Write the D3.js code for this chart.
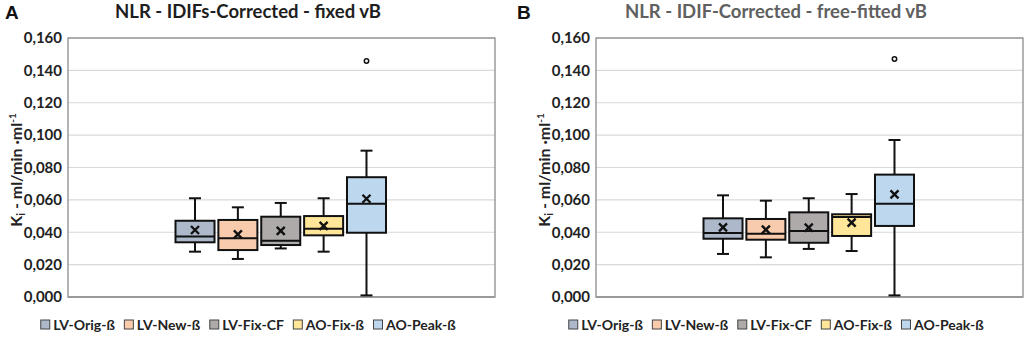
<!DOCTYPE html>
<html><head><meta charset="utf-8">
<script src="https://cdn.jsdelivr.net/npm/d3@7"></script>
<style>body{margin:0;background:#fff}svg{display:block}text{font-family:Lato,"Open Sans",sans-serif}</style>
</head><body>
<svg id="c" width="1026" height="340"></svg>
<script>
const series = ["LV-Orig-ß","LV-New-ß","LV-Fix-CF","AO-Fix-ß","AO-Peak-ß"];
const colors = ["#adb9ca","#f8cbad","#aeaaaa","#ffe699","#bdd7ee"];
const yTicks = [0,0.02,0.04,0.06,0.08,0.10,0.12,0.14,0.16];

const titleA = "NLR - IDIFs-Corrected - fixed vB";
const minA  = [0.0280,0.0235,0.0300,0.0280,0.0010];
const q1A   = [0.0338,0.0290,0.0321,0.0381,0.0397];
const medA  = [0.0373,0.0363,0.0348,0.0422,0.0576];
const q3A   = [0.0471,0.0476,0.0496,0.0500,0.0740];
const maxA  = [0.0610,0.0554,0.0581,0.0610,0.0904];
const meanA = [0.0414,0.0387,0.0408,0.0439,0.0607];
const outA  = [[],[],[],[],[0.1458]];

const titleB = "NLR - IDIF-Corrected - free-fitted vB";
const minB  = [0.0266,0.0245,0.0297,0.0284,0.0010];
const q1B   = [0.0360,0.0354,0.0335,0.0377,0.0439];
const medB  = [0.0395,0.0391,0.0408,0.0494,0.0576];
const q3B   = [0.0486,0.0482,0.0523,0.0511,0.0756];
const maxB  = [0.0628,0.0595,0.0610,0.0636,0.0970];
const meanB = [0.0430,0.0416,0.0428,0.0459,0.0634];
const outB  = [[],[],[],[],[0.1470]];

const svg = d3.select("#c");
const y = d3.scaleLinear().domain([0,0.16]).range([297,38]);
const fmt = v => d3.format(".3f")(v).replace(".",",");

function panel(o){
  const g = svg.append("g");
  const x0=o.x0, x1=o.x1;
  g.append("text").attr("x",o.letterX).attr("y",19)
    .style("font-family","'Liberation Sans',Arial,sans-serif").attr("font-weight","bold").attr("font-size",19).attr("fill","#111").text(o.letter);
  g.append("text").attr("x",o.cx).attr("y",17.5).attr("text-anchor","middle").attr("font-weight","bold")
    .attr("font-size",18.5).attr("fill",o.titleColor).text(o.title);
  g.selectAll("line.grid").data(yTicks.slice(1)).join("line").attr("class","grid")
    .attr("x1",x0).attr("x2",x1).attr("y1",d=>y(d)).attr("y2",d=>y(d))
    .attr("stroke","#d9d9d9").attr("stroke-width",1.2);
  g.append("rect").attr("x",x0).attr("y",y(0.16)).attr("width",x1-x0).attr("height",y(0)-y(0.16))
    .attr("fill","none").attr("stroke","#8c8c8c").attr("stroke-width",1.3);
  g.append("line").attr("x1",x0).attr("x2",x1).attr("y1",y(0)).attr("y2",y(0)).attr("stroke","#9a9a9a").attr("stroke-width",2);
  const ax = d3.axisLeft(y).tickValues(yTicks).tickFormat(fmt).tickSize(0).tickPadding(6);
  const ag = g.append("g").attr("transform",`translate(${x0},0)`).call(ax);
  ag.select(".domain").remove();
  ag.selectAll("text").attr("font-size",15).attr("font-weight","bold").attr("fill","#222")
    .style("font-family","Lato,'Open Sans',sans-serif");
  const yl = g.append("text").attr("transform",`translate(${o.labelX},170) rotate(-90)`).attr("text-anchor","middle")
    .attr("font-weight","bold").attr("font-size",16).attr("fill","#222");
  yl.append("tspan").text("K");
  yl.append("tspan").attr("font-size",11).attr("dy",3).text("i");
  yl.append("tspan").attr("dy",-3).text(" - ml/min ·ml");
  yl.append("tspan").attr("font-size",10).attr("dy",-6).text("-1");
  const xb = d3.scaleBand().domain(series).range([x0+107.5,x1-109]).paddingInner(0.09);
  const bw = xb.bandwidth();
  series.forEach((s,i)=>{
    const cx = xb(s)+bw/2;
    const bg = g.append("g");
    bg.append("line").attr("x1",cx).attr("x2",cx).attr("y1",y(o.max[i])).attr("y2",y(o.q3[i])).attr("stroke","#111").attr("stroke-width",2);
    bg.append("line").attr("x1",cx).attr("x2",cx).attr("y1",y(o.q1[i])).attr("y2",y(o.min[i])).attr("stroke","#111").attr("stroke-width",2);
    [o.max[i],o.min[i]].forEach(v=>bg.append("line").attr("x1",cx-6).attr("x2",cx+6).attr("y1",y(v)).attr("y2",y(v)).attr("stroke","#111").attr("stroke-width",2));
    bg.append("rect").attr("x",xb(s)).attr("width",bw).attr("y",y(o.q3[i])).attr("height",y(o.q1[i])-y(o.q3[i]))
      .attr("fill",colors[i]).attr("stroke","#111").attr("stroke-width",2);
    bg.append("line").attr("x1",xb(s)).attr("x2",xb(s)+bw).attr("y1",y(o.med[i])).attr("y2",y(o.med[i])).attr("stroke","#111").attr("stroke-width",2);
    const my = y(o.mean[i]), m=4;
    bg.append("path").attr("d",`M${cx-m},${my-m}L${cx+m},${my+m}M${cx-m},${my+m}L${cx+m},${my-m}`).attr("stroke","#111").attr("stroke-width",2.4);
    o.out[i].forEach(v=>bg.append("circle").attr("cx",cx).attr("cy",y(v)).attr("r",2.2).attr("fill","#fff").attr("stroke","#111").attr("stroke-width",1.5));
  });
  const lg = g.append("g");
  let xx=0;
  series.forEach((s,i)=>{
    const it = lg.append("g").attr("transform",`translate(${xx},0)`);
    it.append("rect").attr("x",0.5).attr("y",-5).attr("width",9).attr("height",9).attr("fill",colors[i]).attr("stroke","#444").attr("stroke-width",1);
    const t = it.append("text").attr("x",13).attr("y",5).attr("font-size",14).attr("font-weight","bold").attr("fill","#222").text(s);
    xx += 13 + t.node().getComputedTextLength() + 9;
  });
  const tw = xx-9;
  lg.attr("transform",`translate(${o.cx - tw/2},325)`);
}

panel({letter:"A",letterX:5,title:titleA,titleColor:"#1e1e1e",cx:248,x0:68,x1:495,labelX:22,
  min:minA,q1:q1A,med:medA,q3:q3A,max:maxA,mean:meanA,out:outA});
panel({letter:"B",letterX:517,title:titleB,titleColor:"#606060",cx:776,x0:596,x1:1023,labelX:550,
  min:minB,q1:q1B,med:medB,q3:q3B,max:maxB,mean:meanB,out:outB});
</script>
</body></html>
